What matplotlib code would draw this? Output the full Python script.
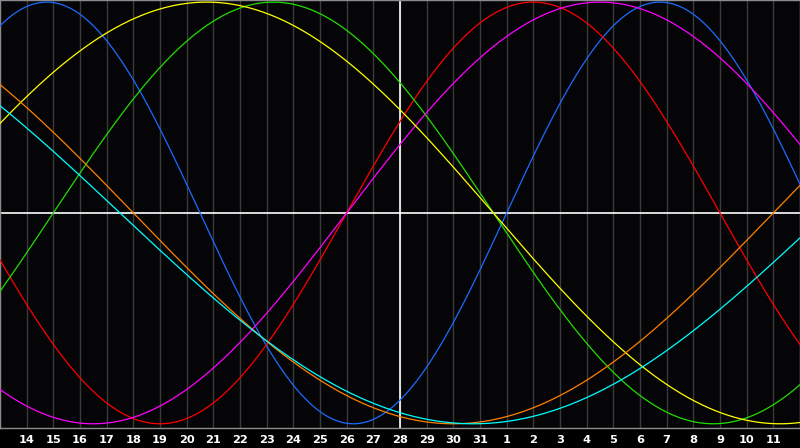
import matplotlib
matplotlib.use('Agg')
import matplotlib.pyplot as plt
import numpy as np

# day labels along the bottom (one per grid line, t = 14 .. 42)
day_labels = [14, 15, 16, 17, 18, 19, 20, 21, 22, 23, 24, 25, 26, 27, 28,
              29, 30, 31, 1, 2, 3, 4, 5, 6, 7, 8, 9, 10, 11]
first_label_t = 14
t_start, t_end = 13, 43
today_t = 28

# cycles: length in days and the day the curve crosses zero going up
cycle_len = [23, 28, 33, 38, 43, 48, 53]
cycle_start = [9.0, 26.0, 15.0, 26.0, 10.0, -6.0, -9.0]
cycle_color = ['#1a6cff', '#ff0000', '#22dd00', '#ff00ff', '#ffff00', '#ff8000', '#00ffff']

fig = plt.figure(figsize=(8, 4.48), dpi=100, facecolor='#000000')
ax = fig.add_axes([0, 20 / 448, 1, 428 / 448])
ax.set_facecolor('#050508')

label_t = [first_label_t + i for i in range(len(day_labels))]

# grid
ax.vlines(label_t, -2, 2, colors='#3a3a3a', lw=1.0, zorder=1)
ax.axvline(today_t, color='white', lw=1.2, zorder=2)
ax.axhline(0, color='white', lw=1.2, zorder=2)

t = np.linspace(t_start, t_end, 1200)
for P, s, c in zip(cycle_len, cycle_start, cycle_color):
    ax.plot(t, np.sin(2 * np.pi * (t - s) / P), color=c, lw=0.9, zorder=3)

ax.set_xlim(t_start, t_end)
ax.set_ylim(-1.02, 1.01)
ax.set_yticks([])
ax.set_xticks(label_t)
ax.set_xticklabels([str(d) for d in day_labels], fontsize=8.2,
                   fontweight='bold', color='white', family='DejaVu Sans')
ax.tick_params(axis='x', length=0, pad=5)
for sp in ax.spines.values():
    sp.set_color('#8c8c8c')
    sp.set_linewidth(1.0)

fig.savefig('out.png', dpi=100, facecolor=fig.get_facecolor())
